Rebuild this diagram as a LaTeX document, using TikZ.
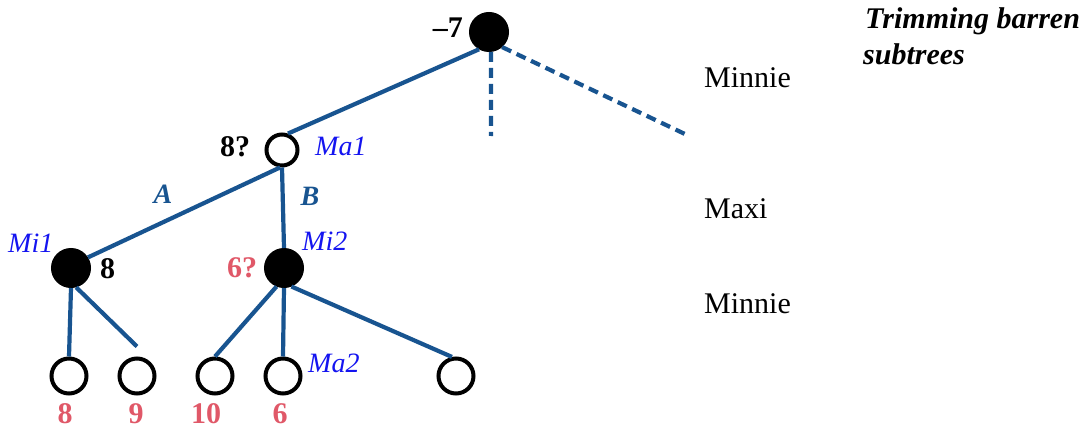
\documentclass[tikz,border=0pt]{standalone}
\usepackage{fontspec}
\setmainfont{Liberation Serif}
\definecolor{eblue}{RGB}{24,84,144}
\definecolor{lblue}{RGB}{20,20,240}
\definecolor{vred}{RGB}{224,88,104}
\begin{document}
\begin{tikzpicture}[x=1pt,y=-1pt,
  edge/.style={draw=eblue,line width=4.2pt},
  dashedge/.style={draw=eblue,line width=4.2pt,dash pattern=on 10pt off 6pt},
  minnode/.style={circle,fill=black,draw=black,line width=1pt,minimum size=39pt,inner sep=0pt},
  maxnode/.style={circle,fill=white,draw=black,line width=4pt,minimum size=31pt,inner sep=0pt},
  leafnode/.style={maxnode,minimum size=35pt},
  lbl/.style={inner sep=0pt,text=lblue,font=\fontsize{28}{30}\selectfont\itshape},
  val/.style={inner sep=0pt,text=black,font=\fontsize{30}{32}\selectfont\bfseries},
  rval/.style={inner sep=0pt,text=vred,font=\fontsize{30}{32}\selectfont\bfseries},
  elbl/.style={inner sep=0pt,text=eblue,font=\fontsize{28}{30}\selectfont\bfseries\itshape},
  side/.style={inner sep=0pt,anchor=base west,font=\fontsize{30}{32}\selectfont},
]
\useasboundingbox (0,0) rectangle (1088,428);
% nodes
\node[minnode] (root) at (489,32) {};
\node[maxnode] (ma1) at (282,150) {};
\node[minnode] (mi1) at (71,268) {};
\node[minnode] (mi2) at (284,268) {};
\node[leafnode] (l1) at (69,376) {};
\node[leafnode] (l2) at (137,376) {};
\node[leafnode] (l3) at (215,376) {};
\node[leafnode] (l4) at (283,376) {};
\node[leafnode] (l5) at (456,376) {};
\coordinate (dv) at (491,136);
\coordinate (dd) at (687,135);
% edges
\draw[edge] (root.240) -- (ma1.70);
\draw[edge] (ma1.264) -- (mi1.32);
\draw[edge] (ma1.south) -- (mi2.north);
\draw[edge] (mi1.south) -- (l1.north);
\draw[edge] (mi1.-75) -- ([yshift=10pt]l2.north);
\draw[edge] (mi2.248) -- (l3.north);
\draw[edge] (mi2.south) -- (l4.north);
\draw[edge] (mi2.-68) -- (l5.102);
\draw[dashedge] (root.-84) -- (dv);
\draw[dashedge] (root.-49) -- (dd);
% labels
\node[val,anchor=base east] (v7) at (463,38) {\char"2013 7};
\node[val,anchor=base] (v8q) at (235,157) {8?};
\node[lbl,anchor=base west] (tma1) at (315,155) {Ma1};
\node[elbl,anchor=base] (ta) at (163,203) {A};
\node[elbl,anchor=base] (tb) at (310,205) {B};
\node[lbl,anchor=base west] (tmi1) at (8,252) {Mi1};
\node[val,anchor=base west] (v8) at (100,278) {8};
\node[rval,anchor=base] (v6q) at (242,277) {6?};
\node[lbl,anchor=base west] (tmi2) at (302,250) {Mi2};
\node[lbl,anchor=base west] (tma2) at (308,372) {Ma2};
\node[rval,anchor=base] (n8) at (65,423) {8};
\node[rval,anchor=base] (n9) at (136,423) {9};
\node[rval,anchor=base] (n10) at (206,423) {10};
\node[rval,anchor=base] (n6) at (280,423) {6};
\node[side] (s1) at (704,88) {Minnie};
\node[side] (s2) at (704,218) {Maxi};
\node[side] (s3) at (704,313) {Minnie};
\node[side,font=\fontsize{30}{32}\selectfont\bfseries\itshape] (t1) at (865,29) {Trimming barren};
\node[side,font=\fontsize{30}{32}\selectfont\bfseries\itshape] (t2) at (863,65) {subtrees};
\end{tikzpicture}
\end{document}
